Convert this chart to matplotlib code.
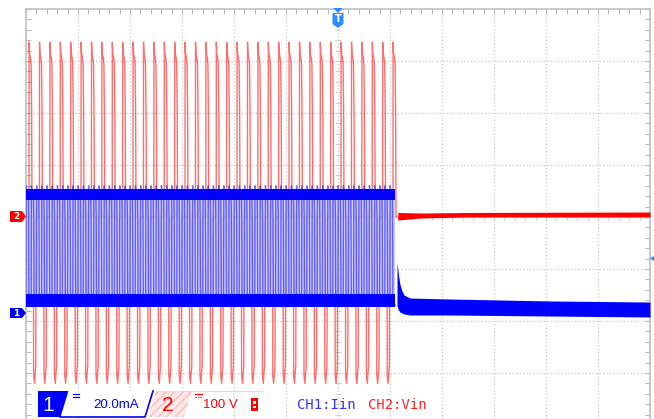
import numpy as np
import matplotlib
matplotlib.use("Agg")
import matplotlib.pyplot as plt
from matplotlib.patches import Polygon
from matplotlib.ticker import MultipleLocator
from matplotlib.collections import LineCollection

# --- scope screen: 12 x 8 div, values in divisions (y=0 is the centre line) ---
# CH2 (Vin, red): bipolar switching pulses, then flat after turn-off
RED_FIRST = 0.058
RED_PERIOD = 0.2
RED_COUNT = 36
RED_TOP_DX = [0.0, 0.002, 0.010, 0.030, 0.040, 0.050, 0.058]
RED_TOP_Y = [0.0, 3.36, 3.15, 3.05, 2.95, 2.06, 0.0]
RED_BOT_OFFSET = 0.085
RED_BOT_DX = [0.0, 0.003, 0.020, 0.045, 0.050]
RED_BOT_Y = [0.0, -3.05, -3.20, -2.85, 0.0]
RED_OFF_X = [7.15, 7.6, 8.5, 12.0]
RED_OFF_HI = [0.087, 0.077, 0.087, 0.096]
RED_OFF_LO = [-0.058, -0.019, 0.0, 0.0]

# CH1 (Iin, blue): current pulses at twice the switching rate, then decay
BLUE_FIRST = 0.0
BLUE_PERIOD = 0.1
BLUE_COUNT = 71
BLUE_DX = [0.0, 0.004, 0.012, 0.030, 0.045, 0.050, 0.056, 0.070, 0.100]
BLUE_Y = [-1.70, 0.60, 0.50, 0.42, 0.34, 0.0, -1.50, -1.62, -1.70]
BLUE_TOP_BAND = [0.33, 0.53]
BLUE_BOT_BAND = [-1.74, -1.48]
BLUE_OFF_X = [7.135, 7.163, 7.19, 7.23, 7.27, 7.385, 8.15, 10.08, 12.0]
BLUE_OFF_HI = [-0.865, -1.115, -1.288, -1.423, -1.5, -1.558, -1.577, -1.615, -1.635]
BLUE_OFF_LO = [-1.712, -1.788, -1.827, -1.846, -1.865, -1.885, -1.885, -1.904, -1.923]

W, H = 654, 419
fig = plt.figure(figsize=(W / 100, H / 100), dpi=100)
fig.patch.set_facecolor("white")

ax = fig.add_axes([26 / W, 0, 624 / W, 410 / H])
ax.set_xlim(0, 12)
ax.set_ylim((217 - 419) / 52, 4.0)
ax.set_facecolor("white")

# grid + frame
grid_c = "#cfcfcf"
for gx in range(1, 12):
    ax.axvline(gx, color=grid_c, lw=1.0, ls=(0, (1, 1.5)), zorder=1)
for gy in range(-3, 4):
    ax.axhline(gy, color=grid_c, lw=1.0, ls=(0, (1, 1.5)), zorder=1)
for s in ["top", "left", "right"]:
    ax.spines[s].set_color("#c0c0c0")
    ax.spines[s].set_linewidth(1.2)
ax.spines["bottom"].set_visible(False)
ax.xaxis.set_major_locator(MultipleLocator(1))
ax.xaxis.set_minor_locator(MultipleLocator(0.2))
ax.yaxis.set_major_locator(MultipleLocator(1))
ax.yaxis.set_minor_locator(MultipleLocator(0.2))
ax.tick_params(which="both", direction="in", top=True, right=True, bottom=False,
               length=3.5, width=0.8, color="#b8b8b8",
               labelbottom=False, labelleft=False)

# small ticks on the centre cross
segs = [[(x, -0.05), (x, 0.05)] for x in np.arange(0.2, 12, 0.2)]
segs += [[(5.95, y), (6.05, y)] for y in np.arange(-3.8, 4, 0.2)]
ax.add_collection(LineCollection(segs, colors=grid_c, linewidths=0.8, zorder=1))

# red trace
red_x, red_y = [0.0], [0.0]
for k in range(RED_COUNT):
    x0 = RED_FIRST + k * RED_PERIOD
    red_x += [x0 + d for d in RED_TOP_DX]
    red_y += RED_TOP_Y
    if k < RED_COUNT - 1:
        xb = x0 + RED_BOT_OFFSET
        red_x += [xb + d for d in RED_BOT_DX]
        red_y += RED_BOT_Y
red_x.append(RED_OFF_X[0])
red_y.append(0.0)
ax.plot(red_x, red_y, color="#ff2020", lw=1.0, alpha=0.65, zorder=3)
ax.fill_between(RED_OFF_X, RED_OFF_LO, RED_OFF_HI, color="#ff0000", lw=0, zorder=3)

# blue trace
blue_end = BLUE_FIRST + BLUE_COUNT * BLUE_PERIOD
ax.fill_between([BLUE_FIRST, blue_end], BLUE_BOT_BAND[1], BLUE_TOP_BAND[0],
                color="#c8c8ff", alpha=0.85, lw=0, zorder=4)
blue_x, blue_y = [], []
for k in range(BLUE_COUNT):
    x0 = BLUE_FIRST + k * BLUE_PERIOD
    blue_x += [x0 + d for d in BLUE_DX]
    blue_y += BLUE_Y
ax.plot(blue_x, blue_y, color="#3030ff", lw=1.0, alpha=0.7, zorder=5)
ax.fill_between([BLUE_FIRST, blue_end], BLUE_TOP_BAND[0], BLUE_TOP_BAND[1],
                color="#0000ff", lw=0, zorder=6)
ax.fill_between([BLUE_FIRST, blue_end], BLUE_BOT_BAND[0], BLUE_BOT_BAND[1],
                color="#0000ff", lw=0, zorder=6)
ax.fill_between(BLUE_OFF_X, BLUE_OFF_LO, BLUE_OFF_HI, color="#0000ff", lw=0, zorder=6)

# --- overlay in pixel coordinates: markers and status bar ---
ov = fig.add_axes([0, 0, 1, 1], zorder=10)
ov.set_xlim(0, W)
ov.set_ylim(H, 0)
ov.axis("off")
ov.patch.set_alpha(0)

# channel ground markers
ov.add_patch(Polygon([(10, 211), (22, 211), (26, 216.5), (22, 222), (10, 222)],
                     closed=True, fc="#ff0000", ec="none"))
ov.text(16, 216.8, "2", color="white", fontsize=6.5, fontweight="bold",
        ha="center", va="center")
ov.add_patch(Polygon([(10, 308), (22, 308), (26, 313), (22, 318), (10, 318)],
                     closed=True, fc="#0000ee", ec="none"))
ov.text(16, 313.3, "1", color="white", fontsize=6.5, fontweight="bold",
        ha="center", va="center")

# trigger marker
tcol = "#2b8cff"
ov.add_patch(Polygon([(333, 8), (343, 8), (338, 13)], closed=True, fc=tcol, ec="none"))
ov.add_patch(Polygon([(332.5, 13), (343.5, 13), (343.5, 24), (338, 28), (332.5, 24)],
                     closed=True, fc=tcol, ec="none"))
ov.text(338, 19.5, "T", color="white", fontsize=7, fontweight="bold",
        ha="center", va="center")
ov.add_patch(Polygon([(650, 258.5), (654, 256), (654, 261)], closed=True,
                     fc=tcol, ec="none"))

# status bar
ov.add_patch(Polygon([(68, 391), (153, 391), (145, 417), (60, 417)], closed=True,
                     fc="white", ec="none"))
ov.plot([60, 145, 153], [417, 417, 391], color="#0000ff", lw=1.2)
ov.add_patch(Polygon([(38, 391), (68.5, 391), (60.5, 417), (38, 417)], closed=True,
                     fc="#0000ff", ec="none"))
ov.text(48, 405, "1", color="white", fontsize=15, ha="center", va="center",
        family="Liberation Sans")
ov.plot([73, 79], [393.5, 393.5], color="#0000ff", lw=0.9)
ov.plot([73, 79], [396.5, 396.5], color="#0000ff", lw=0.9)
ov.text(93, 405, "20.0mA", color="#0000ff", fontsize=9.5, ha="left", va="center",
        family="Liberation Sans")

plt.rcParams["hatch.linewidth"] = 1.5
ov.add_patch(Polygon([(156, 391), (192, 391), (184, 417), (148, 417)], closed=True,
                     fc="#ffecec", ec="#ffc4c4", lw=0, hatch="////"))
ov.plot([156, 262], [391, 391], color="#ffd0d0", lw=0.8)
ov.text(168, 405, "2", color="#ff0000", fontsize=15, ha="center", va="center",
        family="Liberation Sans")
ov.plot([195, 202], [393.5, 393.5], color="#ff0000", lw=0.9)
ov.plot([195, 202], [396.5, 396.5], color="#ff0000", lw=0.9, ls=(0, (1, 1)))
ov.text(203, 405, "100 V", color="#ff0000", fontsize=9.5, ha="left", va="center",
        family="Liberation Sans")
ov.add_patch(Polygon([(251, 398), (258, 398), (258, 411), (251, 411)], closed=True,
                     fc="#ff0000", ec="none"))
ov.add_patch(Polygon([(253, 401), (256, 401), (256, 403.5), (253, 403.5)], closed=True,
                     fc="white", ec="none"))
ov.add_patch(Polygon([(253, 405.5), (256, 405.5), (256, 408), (253, 408)], closed=True,
                     fc="white", ec="none"))

ov.text(297, 404.5, "CH1:Iin", color="#3333ff", fontsize=10, ha="left", va="center",
        family="DejaVu Sans Mono")
ov.text(368, 404.5, "CH2:Vin", color="#ff2020", fontsize=10, ha="left", va="center",
        family="DejaVu Sans Mono")

fig.savefig("out.png", dpi=100)
